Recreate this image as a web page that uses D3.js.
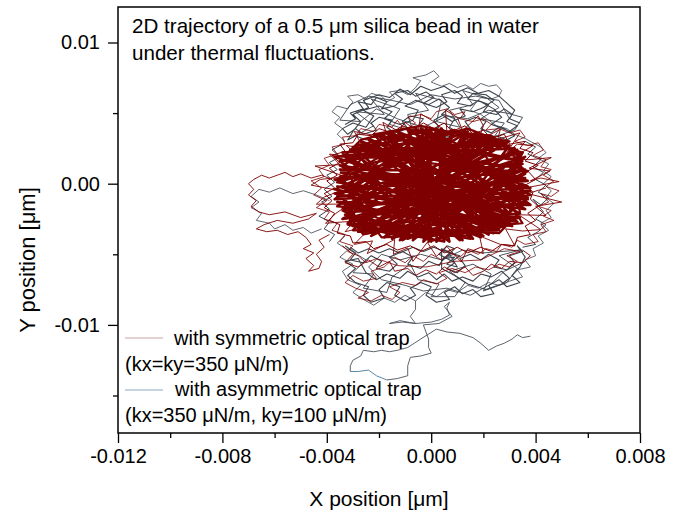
<!DOCTYPE html>
<html>
<head>
<meta charset="utf-8">
<script src="https://cdn.jsdelivr.net/npm/d3@7"></script>
<style>
  body { margin: 0; background: #fff; }
  text { font-family: Arial, "Liberation Sans", sans-serif; fill: #000; }
</style>
</head>
<body>
<div id="chart"></div>
<script>
// bead positions, in units of 1e-3 µm, estimated from the figure

// symmetric trap (kx=ky=350 µN/m)
const symCore = [[-3.5,0.8],[3.4,-1.2],[-1.2,3.6],[1.5,-3.9],[-3.3,-2.2],[3.6,1.9],[-0.3,-4.1],[0.8,3.8],[-3.6,-0.9],[3.7,0.2],
  [-2.4,3.1],[2.6,-3.3],[-2.8,-3.4],[2.9,2.9],[-3.7,1.9],[3.2,-2.6],[0.2,3.9],[-0.9,-3.9],[3.8,-0.5],[-3.4,-1.7],
  [1.9,3.5],[-1.8,-3.8],[3.5,1.1],[-3.0,2.6],[1.1,-4.0],[-1.6,3.7],[3.6,-1.8],[-3.6,0.1],[2.3,3.2],[-2.2,-3.6],
  [3.3,2.4],[-3.2,-2.8],[0.5,-4.1],[-0.6,3.9],[3.7,-1.0],[-3.5,1.3],[2.0,-3.7],[-2.6,2.9],[3.1,-3.0],[-3.7,-0.4],
  [1.3,3.7],[-1.1,-4.0],[3.6,0.7],[-2.9,-3.1],[2.7,3.0],[-3.4,2.2],[0.0,-4.1],[-0.2,3.9],[3.8,-1.5],[-3.6,-1.3],
  [2.4,-3.5],[-2.0,3.4],[3.4,1.6],[-3.1,-2.6],[1.6,-3.9],[-1.3,3.7],[3.7,-0.2],[-3.5,0.5],[2.2,3.4],[-2.5,-3.5],
  [3.2,-2.2],[-3.3,1.7],[0.9,3.8],[-0.7,-4.0],[3.5,2.2],[-3.7,-0.7],[2.8,-3.1],[-2.7,3.0],[3.6,-1.4],[-3.2,-2.0],
  [1.7,3.6],[-1.5,-3.9],[3.7,0.9],[-3.5,1.0],[2.5,-3.4],[-1.9,3.5],[3.3,-2.7],[-3.6,-1.6],[0.4,3.9],[0.2,-4.1],
  [3.0,2.7],[-3.1,2.4],[1.2,-4.0],[-0.9,3.8],[3.8,-0.8],[-3.4,-2.5],[2.1,3.3],[-2.3,-3.7],[3.5,1.4],[-3.7,0.3],
  [1.9,-3.8],[-2.4,3.2],[3.4,-2.1],[-3.0,-3.0],[2.6,3.1],[-3.5,1.6],[0.7,-4.1],[-0.4,3.9],[3.7,-1.1],[-3.6,-0.2],
  [2.9,-2.9],[-2.8,2.8],[3.6,0.4],[-3.3,-1.9],[1.4,3.7],[-1.2,-4.0],[3.2,2.5],[-3.4,2.0],[2.2,-3.6],[-1.7,3.6],
  [3.8,-0.3],[-3.7,-1.1],[0.0,3.9],[-0.1,-4.1],[3.4,-2.4],[-3.2,1.1],[2.4,3.3],[-2.6,-3.3],[3.6,1.0],[-3.5,-0.6]];

const symInner = [[0.0,0.0],[1.8,1.2],[-0.6,2.3],[-2.4,0.6],[-0.9,-1.8],[1.5,-2.6],[3.2,-0.9],[2.1,1.9],[0.3,3.4],[-1.8,2.9],
  [-3.3,1.4],[-2.7,-1.2],[-3.2,-2.9],[-1.2,-3.7],[0.9,-3.3],[2.6,-3.5],[3.4,-2.0],[3.1,0.5],[3.5,2.2],[1.6,3.3],
  [-0.4,4.1],[-2.2,3.5],[-1.1,1.2],[0.9,0.4],[2.4,-1.4],[0.4,-2.0],[-1.6,-0.4],[-3.4,-0.2],[-2.1,-2.4],[-0.2,-3.8],
  [2.0,-3.0],[3.5,-2.8],[2.6,-0.2],[3.5,1.6],[1.1,2.6],[-1.3,3.4],[-3.0,2.6],[-2.0,0.1],[-3.4,-1.9],[-1.8,-3.4],
  [0.6,-1.1],[2.9,-2.6],[1.3,-3.7],[-0.8,-2.9],[-2.6,-3.6],[-3.1,-2.4],[-1.4,-1.5],[0.2,1.4],[-2.5,1.9],[-0.7,3.0],
  [1.4,3.9],[2.8,2.9],[3.6,0.8],[2.2,-0.6],[3.1,-3.0],[0.9,-2.4],[-0.5,-0.5],[-2.9,0.9],[-1.7,2.2],[0.6,2.0],
  [2.5,0.7],[1.1,-1.6],[-1.0,-3.2],[-3.0,-3.3],[-2.3,-1.7],[-3.4,0.3],[-2.0,3.1],[0.1,3.8],[2.3,3.4],[3.4,2.0],
  [2.0,-1.9],[3.5,-1.4],[1.8,-3.5],[-0.4,-3.5],[-2.2,-2.9],[-1.0,-0.9],[1.4,0.2],[-0.3,1.0],[-2.8,-0.5],[-1.5,1.6],
  [0.8,3.0],[-1.0,3.9],[-2.7,3.1],[-3.3,2.0],[-2.2,0.9],[-0.1,-1.3],[2.6,-3.2],[3.5,-0.4],[1.6,1.6],[3.0,3.0],
  [1.0,3.6],[-1.5,2.7],[-3.1,-0.8],[-1.9,-3.8],[0.5,-3.6],[2.4,-2.1],[1.2,-0.3],[-0.9,0.6],[-3.3,-1.5],[-2.4,-3.3]];

const symRim = [[-1.0,3.8],[-0.6,4.3],[-0.9,4.7],[-0.4,4.9],[0.0,4.6],[0.2,5.1],[0.6,5.3],[0.9,4.9],[1.3,5.1],[1.1,4.6],
  [1.6,4.4],[2.0,4.6],[2.3,4.2],[2.1,3.8],[2.6,3.9],[3.0,3.6],[3.4,3.8],[3.6,3.3],[3.2,3.0],[3.7,2.7],
  [4.1,2.9],[4.3,2.4],[3.9,2.0],[4.4,1.7],[4.2,1.2],[4.6,1.0],[4.3,0.6],[4.7,0.2],[4.4,-0.2],[4.9,-0.5],
  [4.6,-0.9],[4.2,-0.7],[4.5,-1.3],[4.1,-1.6],[4.6,-1.9],[4.3,-2.3],[4.7,-2.6],[4.2,-2.9],[4.4,-3.4],[3.9,-3.6],
  [4.1,-4.1],[3.6,-4.3],[3.3,-4.0],[3.1,-4.5],[2.7,-4.3],[2.5,-4.8],[2.1,-4.6],[1.8,-5.0],[1.4,-4.7],[1.1,-5.2],
  [0.7,-4.9],[0.4,-5.4],[0.0,-5.0],[-0.3,-5.5],[-0.7,-5.1],[-1.0,-5.6],[-1.4,-5.2],[-1.8,-5.9],[-2.3,-6.2],[-2.1,-6.7],
  [-2.6,-6.9],[-3.0,-6.5],[-3.3,-7.0],[-2.9,-7.4],[-2.4,-7.7],[-2.8,-8.1],[-2.3,-8.3],[-1.9,-7.9],[-1.5,-8.2],[-1.2,-7.7],
  [-1.6,-7.3],[-1.1,-7.0],[-0.6,-7.2],[-0.3,-6.8],[0.2,-7.1],[0.6,-6.7],[0.3,-6.3],[0.8,-6.0],[1.3,-6.3],[1.7,-5.9],
  [2.2,-6.1],[2.6,-5.7],[3.0,-5.9],[3.3,-5.5],[2.9,-5.1],[3.4,-4.8],[2.8,-4.6],[1.9,-5.4],[0.9,-5.5],[-0.2,-5.9],
  [-1.3,-5.8],[-2.1,-5.3],[-2.5,-5.6],[-2.8,-5.1],[-3.2,-4.8],[-3.0,-4.4],[-3.5,-4.1],[-3.3,-3.6],[-3.8,-3.3],[-3.6,-2.8],
  [-4.1,-2.5],[-3.9,-2.0],[-4.4,-1.7],[-4.0,-1.2],[-4.5,-0.8],[-4.2,-0.3],[-4.6,0.2],[-4.1,0.5],[-4.3,1.0],[-3.9,1.3],
  [-4.1,1.8],[-3.6,2.1],[-3.8,2.6],[-3.3,2.8],[-3.4,3.3],[-2.9,3.4],[-2.7,3.9],[-2.2,3.7],[-2.0,4.2],[-1.5,4.0],
  [-1.3,4.5],[-1.0,3.8]];

const symHair = [[3.6,-0.3],[4.9,0.15],[4.2,0.4],[3.8,0.2],[4.55,0.9],[3.75,1.1],[4.6,1.85],[3.75,1.7],[3.05,1.75],[3.9,2.7],
  [3.3,2.8],[2.9,2.2],[3.4,3.6],[2.55,3.15],[2.65,3.85],[1.8,3.05],[2.0,4.1],[1.8,4.8],[1.2,3.75],[1.0,4.7],
  [0.55,5.2],[0.6,3.65],[0.05,4.45],[-0.4,4.95],[-0.5,3.65],[-1.0,4.35],[-1.25,3.7],[-1.85,4.35],[-1.6,2.9],[-2.25,3.45],
  [-2.95,3.7],[-2.6,2.55],[-3.25,2.7],[-2.7,1.8],[-3.9,2.1],[-3.5,1.35],[-4.45,1.25],[-3.3,0.5],[-4.25,0.3],[-4.6,-0.1],
  [-3.5,-0.5],[-4.1,-0.95],[-4.4,-1.45],[-3.15,-1.45],[-3.65,-2.1],[-4.05,-2.8],[-2.95,-2.65],[-3.3,-3.4],[-2.25,-2.95],[-2.95,-4.3],
  [-2.25,-4.05],[-2.45,-4.95],[-1.4,-3.95],[-1.45,-5.0],[-0.9,-4.55],[-0.7,-5.5],[-0.15,-4.15],[0.2,-5.15],[0.6,-4.45],[1.15,-5.55],
  [1.4,-4.6],[2.0,-4.95],[1.85,-3.7],[2.65,-4.3],[3.2,-4.4],[2.85,-3.2],[3.5,-3.35],[4.2,-3.25],[3.35,-2.2],[4.4,-2.25],
  [4.0,-1.6],[5.0,-1.3],[3.7,-0.7],[4.4,-0.3]];

const symRim3 = [[3.9,-0.6],[3.6,-0.1],[4.0,0.3],[3.7,0.9],[4.1,1.3],[3.6,1.6],[3.9,2.2],[3.4,2.5],[3.6,3.0],[3.0,2.8],
  [2.8,3.5],[2.3,3.2],[2.0,3.8],[1.6,3.5],[1.3,4.1],[0.8,3.7],[0.5,4.3],[0.1,3.9],[-0.3,4.3],[-0.7,3.8],
  [-1.1,4.1],[-1.5,3.6],[-2.0,3.9],[-2.3,3.4],[-2.8,3.5],[-3.0,2.9],[-3.5,2.8],[-3.3,2.3],[-3.8,2.0],[-3.5,1.5],
  [-3.9,1.1],[-3.6,0.6],[-4.0,0.2],[-3.7,-0.3],[-4.1,-0.7],[-3.8,-1.2],[-4.1,-1.7],[-3.7,-2.1],[-3.9,-2.6],[-3.5,-2.9],
  [-3.6,-3.5],[-3.1,-3.7],[-3.0,-4.2],[-2.5,-4.1],[-2.2,-4.6],[-1.7,-4.3],[-1.3,-4.7],[-0.8,-4.4],[-0.4,-4.8],[0.1,-4.4],
  [0.5,-4.9],[1.0,-4.5],[1.4,-4.9],[1.9,-4.5],[2.3,-4.8],[2.7,-4.3],[3.2,-4.4],[3.3,-3.8],[3.8,-3.6],[3.6,-3.0],
  [4.0,-2.6],[3.7,-2.1],[4.1,-1.6],[3.8,-1.1],[3.9,-0.6]];

const symBottom = [[-3.4,-4.4],[-3.0,-5.0],[-3.3,-5.6],[-2.8,-5.9],[-2.4,-5.4],[-2.0,-5.9],[-1.6,-5.5],[-1.4,-6.2],[-0.9,-6.0],[-0.6,-6.5],
  [-0.2,-6.1],[0.2,-6.4],[0.5,-5.9],[0.9,-6.3],[1.3,-5.9],[1.6,-6.5],[2.0,-6.2],[2.3,-5.7],[2.7,-6.0],[3.0,-5.5],
  [3.5,-5.6],[3.8,-5.1],[3.5,-4.7]];

const symLeft = [[-3.8,0.3],[-4.2,0.6],[-4.6,0.4],[-5.0,0.7],[-5.3,0.5],[-5.6,0.8],[-5.9,0.6],[-6.2,0.4],[-6.5,0.6],[-6.8,0.3],
  [-7.0,0.0],[-6.8,-0.4],[-7.0,-0.8],[-6.7,-1.2],[-6.9,-1.6],[-6.6,-2.0],[-6.2,-2.2],[-5.6,-2.0],[-5.0,-2.4],[-4.4,-2.1],
  [-4.7,-2.5],[-5.3,-2.8],[-5.9,-2.6],[-6.4,-2.9],[-6.7,-3.2],[-6.3,-3.4],[-5.9,-3.3],[-5.5,-3.6],[-5.1,-3.4],[-4.8,-3.8],
  [-4.6,-4.3],[-4.9,-4.6],[-4.5,-4.9],[-4.8,-5.3],[-4.5,-5.8],[-4.7,-6.2],[-4.3,-6.0],[-4.2,-5.5],[-4.4,-5.0],[-4.1,-4.5],
  [-4.3,-4.0],[-3.9,-3.6]];

// asymmetric trap (kx=350, ky=100 µN/m)
const asymTop = [[-3.3,4.2],[-2.9,4.6],[-3.1,5.0],[-2.6,5.3],[-2.8,5.8],[-2.3,5.6],[-2.1,6.1],[-1.7,5.8],[-1.9,5.3],[-1.4,5.5],
  [-1.1,6.0],[-1.4,6.4],[-0.9,6.6],[-0.6,6.2],[-0.2,6.5],[0.1,6.1],[-0.3,5.7],[0.2,5.4],[0.6,5.8],[0.4,6.3],
  [0.9,6.6],[1.2,6.2],[1.0,5.7],[1.5,5.5],[1.8,5.9],[2.2,5.6],[2.0,5.1],[2.5,4.9],[2.8,5.3],[3.1,4.9],
  [2.9,4.4],[3.3,4.1],[3.0,3.7],[2.6,4.0],[2.3,3.6],[1.9,3.9],[2.1,4.4],[1.7,4.7],[1.3,4.4],[1.5,3.9],
  [1.0,3.6],[0.7,4.0],[0.9,4.6],[0.5,4.9],[0.1,4.5],[0.3,4.0],[-0.1,3.7],[-0.5,4.1],[-0.3,4.6],[-0.8,4.8],
  [-1.1,4.4],[-0.9,3.9],[-1.4,3.6],[-1.7,4.0],[-1.5,4.5],[-2.0,4.7],[-2.3,4.3],[-2.1,3.8],[-2.6,3.5],[-2.9,3.9],
  [-3.2,3.5],[-3.4,3.9],[-3.0,4.3],[-2.5,4.0],[-2.2,4.8],[-2.6,5.2],[-2.0,5.5],[-1.5,5.1],[-1.8,4.6],[-1.2,4.2],
  [-0.7,4.5],[-0.5,5.2],[-1.0,5.5],[-0.6,5.9],[-0.1,5.6],[0.3,6.0],[0.7,5.4],[0.4,4.9],[0.8,4.4],[1.3,4.8],
  [1.1,5.3],[1.6,5.1],[2.0,5.4],[2.4,5.9],[2.1,6.3],[1.6,6.4],[1.4,6.0],[1.9,5.8],[2.4,5.3],[2.7,4.7],
  [2.3,4.2],[2.8,3.9],[3.2,3.4],[2.9,3.1],[2.5,3.4],[2.1,3.1],[1.7,3.4],[1.4,3.1],[1.1,3.5],[0.6,3.3],
  [0.2,3.6],[-0.3,3.3],[-0.6,3.6],[-1.0,3.3],[-1.4,3.5],[-1.8,3.2],[-2.2,3.4],[-2.5,3.1],[-2.9,3.4],[-3.2,3.1],
  [-3.0,3.7],[-2.7,4.4],[-3.0,4.9],[-2.4,5.4],[-2.6,5.9],[-2.0,6.3],[-1.6,6.1],[-1.2,6.7],[-0.8,6.3],[-0.4,6.9],
  [0.0,6.6],[0.5,6.9],[0.9,6.4],[1.4,6.8],[1.8,6.4],[2.2,6.6],[2.6,6.2],[2.9,5.7],[3.2,5.2],[3.0,4.6],
  [3.4,4.3]];

const asymTop2 = [[-3.0,3.3],[-2.2,4.1],[-2.9,5.1],[-1.8,4.9],[-2.3,6.0],[-1.2,5.3],[-1.6,4.2],[-0.7,3.7],[-0.9,4.9],[-0.1,5.2],
  [-0.6,6.4],[0.4,5.9],[0.2,4.4],[1.1,4.0],[0.7,5.2],[1.6,5.6],[1.2,6.6],[2.1,6.1],[2.6,5.4],[1.9,4.6],
  [2.8,4.3],[2.4,3.3],[3.2,3.8],[3.5,4.7],[2.9,5.0],[2.2,5.2],[1.4,4.6],[0.6,4.8],[-0.3,4.0],[-1.3,4.6],
  [-2.1,5.3],[-2.7,4.4],[-3.5,4.5],[-3.1,5.6],[-2.4,6.2],[-1.5,5.9],[-0.8,5.6],[0.0,6.3],[0.9,6.0],[1.7,6.2],
  [2.6,5.9],[3.0,4.6]];

const asymBottom = [[-3.3,-4.4],[-2.9,-4.9],[-3.1,-5.4],[-2.6,-5.6],[-2.3,-5.1],[-1.9,-5.5],[-2.1,-6.0],[-1.6,-6.2],[-1.3,-5.7],[-1.6,-5.2],
  [-1.1,-4.8],[-0.7,-5.2],[-0.9,-5.7],[-0.4,-6.0],[-0.1,-5.5],[0.3,-5.8],[0.5,-5.2],[0.9,-5.6],[0.6,-6.0],[1.0,-6.3],
  [1.3,-5.8],[1.1,-5.3],[1.5,-5.0],[1.9,-5.4],[2.2,-5.0],[2.6,-5.4],[2.4,-5.9],[2.9,-6.1],[3.2,-5.6],[3.0,-5.1],
  [3.5,-4.8],[3.3,-4.4],[3.6,-5.2],[3.4,-5.9],[3.1,-6.5],[3.4,-7.0],[2.9,-7.3],[2.6,-6.8],[2.2,-7.2],[2.4,-7.8],
  [1.9,-8.0],[1.6,-7.5],[1.2,-7.8],[0.9,-7.3],[0.5,-7.7],[0.7,-8.2],[0.2,-8.4],[-0.2,-7.9],[0.0,-7.3],[-0.4,-7.0],
  [-0.8,-7.4],[-0.6,-7.9],[-1.0,-8.3],[-1.4,-7.9],[-1.2,-7.3],[-1.7,-7.0],[-2.0,-7.5],[-1.8,-8.1],[-2.3,-8.4],[-2.6,-7.9],
  [-2.4,-7.3],[-2.9,-7.0],[-3.2,-6.5],[-2.9,-6.0],[-3.3,-5.5],[-2.8,-5.3],[-2.5,-6.3],[-2.1,-6.8],[-1.7,-6.4],[-1.2,-6.7],
  [-0.9,-6.2],[-0.5,-6.6],[-0.1,-6.3],[0.2,-6.8],[0.5,-6.4],[0.8,-6.9],[1.2,-6.6],[1.6,-6.9],[1.9,-6.4],[2.3,-6.6],
  [2.7,-6.2],[3.0,-6.7],[2.7,-7.1],[2.1,-7.5],[1.4,-7.1],[0.9,-6.5],[0.4,-6.0],[0.4,-4.6],[0.8,-4.9],[0.5,-5.3],
  [0.9,-5.2],[0.6,-5.7],[1.0,-5.9],[0.7,-5.0],[0.4,-5.5],[0.9,-4.6],[0.6,-4.4],[0.3,-5.0],[0.8,-5.5],[1.1,-5.1],
  [0.5,-4.8],[0.1,-4.5],[-0.3,-4.8],[-0.7,-4.5],[-1.2,-4.9],[-1.6,-4.6],[-2.0,-4.9],[-2.4,-4.6],[-2.8,-4.9],[-3.1,-4.5]];

const asymBottom2 = [[-3.2,-4.6],[-2.5,-5.4],[-3.0,-6.3],[-2.2,-6.4],[-2.6,-7.4],[-1.7,-7.7],[-1.5,-6.6],[-0.8,-5.7],[-0.5,-6.8],[0.3,-7.1],
  [0.0,-8.0],[0.9,-8.0],[1.3,-7.0],[0.7,-6.2],[1.6,-5.7],[2.3,-6.4],[2.0,-7.6],[2.9,-7.0],[3.3,-6.0],[2.6,-5.1],
  [3.4,-4.7],[2.0,-4.9],[1.2,-4.7],[0.4,-5.4],[-0.4,-5.0],[-1.2,-5.4],[-1.9,-5.0],[-2.4,-5.9],[-1.9,-6.8],[-1.0,-7.2],
  [-0.3,-7.6],[0.6,-7.4],[1.5,-7.9],[2.3,-7.1],[2.8,-6.2],[3.6,-5.5]];

const asymRight = [[3.6,3.0],[4.0,2.6],[3.7,2.1],[4.2,1.7],[3.9,1.2],[4.3,0.8],[4.0,0.3],[4.4,-0.1],[4.1,-0.6],[4.5,-1.0],
  [4.2,-1.5],[3.9,-1.1],[4.3,-2.0],[4.0,-2.5],[4.4,-2.9],[4.1,-3.4],[3.7,-3.8],[4.0,-4.3],[3.5,-4.5]];
const asymLeftSide = [[-3.9,-4.1],[-3.7,-3.6],[-4.1,-3.2],[-3.9,-2.7],[-4.3,-2.3],[-3.9,-1.8],[-4.2,-1.3],[-3.8,-0.9],[-4.1,-0.4],[-3.7,0.1],
  [-4.0,0.6],[-3.6,1.0],[-3.9,1.5],[-3.5,1.9],[-3.8,2.4],[-3.4,2.8]];

const asymRim = [[-3.3,3.0],[-3.6,3.5],[-3.4,3.9],[-3.7,4.3],[-3.5,4.7],[-3.8,5.1],[-3.6,5.5],[-3.2,5.3],[-3.0,5.8],[-3.2,6.2],
  [-2.8,6.3],[-2.5,6.0],[-2.3,6.4],[-1.9,6.2],[-1.7,5.8],[-1.4,6.1],[-1.6,6.5],[-1.2,6.6],[-0.9,6.3],[-0.6,6.8],
  [-0.4,7.3],[-0.7,7.5],[-0.2,7.7],[0.1,8.0],[0.3,7.6],[0.0,7.2],[0.4,6.9],[0.7,7.1],[1.0,6.8],[1.3,7.0],
  [1.6,6.7],[1.9,7.1],[2.2,6.9],[2.5,7.0],[2.7,6.6],[2.6,6.2],[2.3,6.0],[1.9,6.1],[1.7,5.7],[1.5,5.2],
  [1.9,4.9],[2.2,4.5],[2.5,4.1],[2.9,3.9],[3.2,3.5],[3.6,3.2],[3.9,2.9],[4.2,2.6],[4.4,2.2],[4.1,1.8],
  [4.5,1.4],[4.3,0.9],[4.6,0.5],[4.3,0.0],[4.6,-0.5],[4.4,-1.0],[4.7,-1.4],[4.4,-1.9],[4.6,-2.4],[4.2,-2.8],
  [4.5,-3.3],[4.1,-3.7],[4.3,-4.2],[3.9,-4.6],[4.0,-5.1],[3.6,-5.4],[3.8,-5.9],[3.3,-6.1],[3.5,-6.6],[3.0,-6.9],
  [2.6,-7.2],[2.2,-7.0],[1.8,-7.4],[1.4,-7.2],[1.0,-7.7],[0.6,-7.5],[0.2,-8.0],[-0.2,-7.7],[-0.6,-8.3],[-1.0,-7.9],
  [-1.4,-8.4],[-1.8,-8.1],[-2.2,-8.6],[-2.6,-8.2],[-3.0,-7.7],[-2.7,-7.2],[-3.2,-6.8],[-3.4,-6.2],[-3.0,-5.7],[-3.5,-5.2],
  [-3.2,-4.7],[-3.6,-4.2],[-3.3,-3.7]];

const asymLeft = [[-3.9,-1.2],[-4.4,-0.8],[-4.9,-0.5],[-5.3,-0.7],[-5.8,-0.3],[-6.2,-0.6],[-6.6,-0.4],[-6.9,-0.9],[-6.6,-1.3],[-6.9,-1.7],
  [-6.5,-2.1],[-6.7,-2.6],[-6.2,-2.8],[-6.0,-3.2],[-5.6,-2.9],[-5.3,-3.3],[-4.9,-3.1],[-4.6,-3.5],[-4.2,-3.2]];

const asymTail = [[-0.6,-8.3],[-0.6,-8.9],[-0.8,-9.4],[-0.6,-9.9],[-1.1,-9.8],[-1.6,-9.9],[-1.2,-9.7],[-0.6,-9.9],[0.0,-9.8],[0.4,-9.6],
  [0.7,-9.3],[0.6,-8.8],[0.7,-8.4],[0.5,-8.7],[0.8,-9.4],[0.3,-9.9],[-0.3,-10.0],[-0.2,-10.5],[-0.1,-11.0],[-0.1,-11.6],
  [0.0,-12.0],[-0.4,-12.2],[-0.8,-12.3],[-0.9,-12.9],[-0.9,-13.6],[-1.3,-13.8],[-1.7,-13.9]];
const asymTailEnd = [[-1.7,-13.9],[-2.1,-13.6],[-2.4,-13.2],[-2.8,-13.3],[-3.1,-13.3]];
const asymTailBack = [[-3.1,-13.3],[-3.1,-12.9],[-3.0,-12.5],[-2.7,-12.2],[-2.6,-11.8],[-2.2,-11.9],[-1.9,-11.8],[-1.6,-11.9],[-1.3,-11.8],[-0.9,-11.6],
  [-0.4,-11.0],[0.2,-10.3],[0.6,-10.5],[1.1,-10.6],[1.6,-10.9],[1.9,-11.3],[2.2,-11.8],[2.5,-11.5],[2.8,-11.3],[3.1,-11.0],
  [3.3,-10.7],[3.5,-10.9],[3.8,-10.8]];

const xTicks = [-0.012, -0.008, -0.004, 0, 0.004, 0.008];
const xTickLabels = ["-0.012", "-0.008", "-0.004", "0.000", "0.004", "0.008"];
const xMinor = [-0.010, -0.006, -0.002, 0.002, 0.006];
const yTicks = [-0.01, 0, 0.01];
const yTickLabels = ["-0.01", "0.00", "0.01"];
const yMinor = [-0.015, -0.005, 0.005];

const margin = {top: 7, right: 39, bottom: 84, left: 118},
      svgWidth = 679,
      svgHeight = 517,
      width = svgWidth - margin.left - margin.right,
      height = svgHeight - margin.top - margin.bottom;

const svg = d3.select('#chart')
    .append('svg')
    .attr('width', svgWidth)
    .attr('height', svgHeight)
    .append('g')
    .attr('transform', `translate(${margin.left}, ${margin.top})`);

const xScale = d3.scaleLinear().domain([-0.012, 0.008]).range([0, width]);
const yScale = d3.scaleLinear().domain([-0.017656, 0.012514]).range([height, 0]);

const unit = 1e-3;
const line = d3.line()
    .x(d => xScale(d[0] * unit))
    .y(d => yScale(d[1] * unit));

const plot = svg.append('g');

function trace(data, color, w) {
    plot.append('path')
        .datum(data)
        .attr('fill', 'none')
        .attr('stroke', color)
        .attr('stroke-width', w)
        .attr('stroke-linejoin', 'round')
        .attr('d', line);
}

const grey = '#3c434c', red = '#7f0000';
trace(asymTop, grey, 1.1);
trace(asymTop2, grey, 0.9);
trace(asymBottom, grey, 1.1);
trace(asymBottom2, grey, 0.9);
trace(asymRight, grey, 1);
trace(asymLeftSide, grey, 1);
trace(asymRim, grey, 0.8);
trace(asymLeft, grey, 0.8);
trace(asymTail, '#4a525c', 0.9);
trace(asymTailEnd, '#5a87a6', 1);
trace(asymTailBack, '#4a525c', 0.9);

trace(symCore, red, 2.6);
trace(symInner, red, 2.2);
trace(symRim3, red, 1);
trace(symHair, red, 0.9);
trace(symRim, red, 0.8);
trace(symBottom, red, 0.9);
trace(symLeft, red, 0.9);

// axes
svg.append('g')
    .attr('transform', `translate(0, ${height})`)
    .call(d3.axisBottom(xScale).tickValues(xTicks).tickSize(10).tickPadding(6)
        .tickFormat((d, i) => xTickLabels[i]));
svg.append('g')
    .attr('transform', `translate(0, ${height})`)
    .call(d3.axisBottom(xScale).tickValues(xMinor).tickSize(5).tickFormat(''));

svg.append('g')
    .call(d3.axisLeft(yScale).tickValues(yTicks).tickSize(10).tickPadding(8)
        .tickFormat((d, i) => yTickLabels[i]));
svg.append('g')
    .call(d3.axisLeft(yScale).tickValues(yMinor).tickSize(5).tickFormat(''));

svg.selectAll('.domain').remove();
svg.selectAll('.tick line').attr('stroke', '#000').attr('stroke-width', 1.3);
svg.selectAll('.tick text').style('font-size', '20px').attr('fill', '#000');

svg.append('rect')
    .attr('width', width)
    .attr('height', height)
    .attr('fill', 'none')
    .attr('stroke', '#000')
    .attr('stroke-width', 1.5);

// title inside the frame
const title = svg.append('text').style('font-size', '20.6px');
title.append('tspan').attr('x', 14).attr('y', 26).text('2D trajectory of a 0.5 μm silica bead in water');
title.append('tspan').attr('x', 14).attr('y', 53).text('under thermal fluctuations.');

// legend
const legend = svg.append('g').style('font-size', '20px');
legend.append('line').attr('x1', 7).attr('x2', 45).attr('y1', 331).attr('y2', 331)
    .attr('stroke', '#c9a3a8').attr('stroke-width', 1.2);
legend.append('text').attr('x', 56).attr('y', 338).text('with symmetric optical trap');
legend.append('text').attr('x', 7).attr('y', 364).text('(kx=ky=350 μN/m)');
legend.append('line').attr('x1', 7).attr('x2', 45).attr('y1', 383).attr('y2', 383)
    .attr('stroke', '#8eaac4').attr('stroke-width', 1.2);
legend.append('text').attr('x', 57).attr('y', 389).text('with asymmetric optical trap');
legend.append('text').attr('x', 7).attr('y', 415).text('(kx=350 μN/m, ky=100 μN/m)');

// axis titles
svg.append('text')
    .attr('x', width / 2)
    .attr('y', height + 73)
    .attr('text-anchor', 'middle')
    .style('font-size', '21px')
    .text('X position [μm]');

svg.append('text')
    .attr('transform', `translate(${-83}, ${height / 2 + 40}) rotate(-90)`)
    .attr('text-anchor', 'middle')
    .style('font-size', '22px')
    .text('Y position [μm]');
</script>
</body>
</html>
